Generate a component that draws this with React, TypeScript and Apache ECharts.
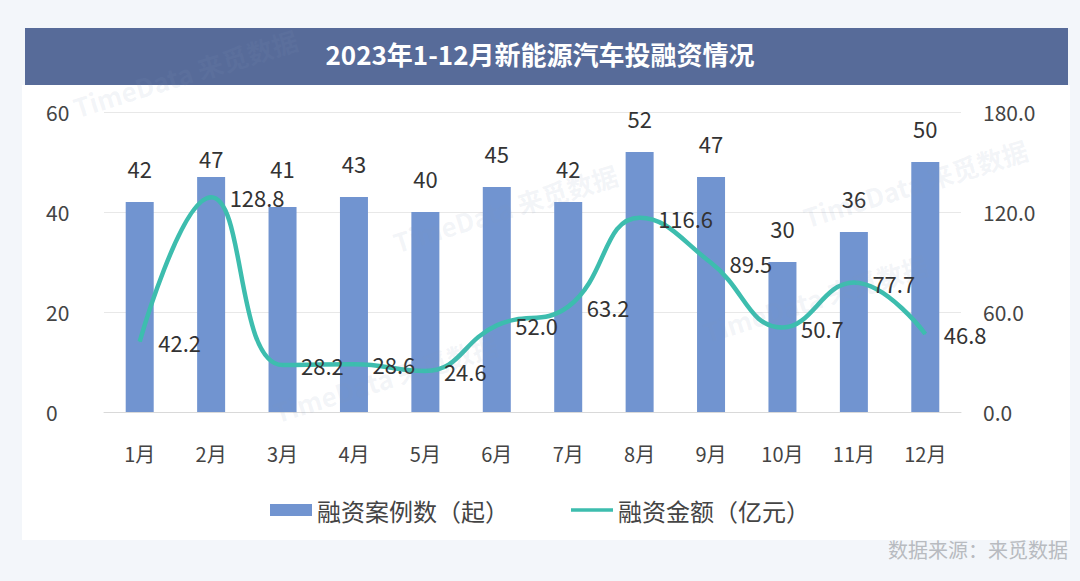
import React, { useEffect, useRef } from "react";
import * as echarts from "echarts";

const months = ["1月", "2月", "3月", "4月", "5月", "6月", "7月", "8月", "9月", "10月", "11月", "12月"];
const caseCounts = [42, 47, 41, 43, 40, 45, 42, 52, 47, 30, 36, 50];
const amounts = [42.2, 128.8, 28.2, 28.6, 24.6, 52.0, 63.2, 116.6, 89.5, 50.7, 77.7, 46.8];
const titleText = "2023年1-12月新能源汽车投融资情况";
const barName = "融资案例数（起）";
const lineName = "融资金额（亿元）";
const sourceText = "数据来源：来觅数据";

const FONT = '"Noto Sans CJK SC", "Noto Sans", sans-serif';

export default function App() {
  const ref = useRef<HTMLDivElement>(null);
  useEffect(() => {
    document.body.style.margin = "0";
    const chart = echarts.init(ref.current!, null, { renderer: "svg" });
    const wm = (x: number, y: number) => ({
      type: "text",
      x,
      y,
      rotation: 0.3,
      silent: true,
      z: 50,
      style: { text: "TimeData 来觅数据", fill: "rgba(130,150,190,0.10)", font: `bold 26px ${FONT}` },
    });
    chart.setOption({
      animation: false,
      backgroundColor: "#f3f6fa",
      textStyle: { fontFamily: FONT },
      graphic: [
        { type: "rect", z: -10, shape: { x: 22, y: 85, width: 1048, height: 455 }, style: { fill: "#ffffff" } },
        { type: "rect", z: -10, shape: { x: 25, y: 28, width: 1043, height: 57 }, style: { fill: "#576b99" } },
        {
          type: "text",
          left: "center",
          top: 40,
          style: { text: titleText, fill: "#ffffff", font: `bold 26px ${FONT}` },
        },
        {
          type: "text",
          right: 12,
          top: 539,
          style: { text: sourceText, fill: "#b8bbc0", font: `20px ${FONT}` },
        },
        wm(70, 95),
        wm(390, 230),
        wm(270, 400),
        wm(700, 320),
        wm(800, 205),
      ],
      legend: {
        bottom: 54,
        left: "center",
        itemGap: 62,
        textStyle: { fontSize: 24, color: "#444", fontFamily: FONT },
        data: [
          { name: barName, icon: "rect", itemWidth: 36, itemHeight: 13 },
          { name: lineName, icon: "path://M0,5 L42,5 L42,8.5 L0,8.5 Z" },
        ],
        itemWidth: 42,
        itemHeight: 12,
      },
      grid: { left: 104, right: 119, top: 112, bottom: 169, containLabel: false },
      xAxis: {
        type: "category",
        data: months,
        axisLine: { show: true, lineStyle: { color: "#d9d9d9", width: 1 } },
        axisTick: { show: false },
        axisLabel: { color: "#444", fontSize: 20, margin: 31, fontFamily: FONT },
      },
      yAxis: [
        {
          type: "value",
          min: 0,
          max: 60,
          interval: 20,
          axisLine: { show: false },
          axisTick: { show: false },
          splitLine: { lineStyle: { color: "#e8e8e8" } },
          axisLabel: { color: "#444", fontSize: 21, margin: 58, align: "left", fontFamily: FONT },
        },
        {
          type: "value",
          min: 0,
          max: 180,
          interval: 60,
          axisLine: { show: false },
          axisTick: { show: false },
          splitLine: { show: false },
          axisLabel: {
            color: "#444",
            fontSize: 21,
            margin: 22,
            fontFamily: FONT,
            formatter: (v: number) => v.toFixed(1),
          },
        },
      ],
      series: [
        {
          name: barName,
          type: "bar",
          data: caseCounts.map((v, i) =>
            i === 1 ? { value: v, label: { distance: 8 } } : i === 2 ? { value: v, label: { distance: 28 } } : v
          ),
          barWidth: 28,
          itemStyle: { color: "#7194d0" },
          label: { show: true, position: "top", distance: 23, color: "#333", fontSize: 22, fontFamily: FONT },
        },
        {
          name: lineName,
          type: "line",
          yAxisIndex: 1,
          data: amounts,
          smooth: 0.45,
          showSymbol: true,
          symbol: "circle",
          symbolSize: 1,
          lineStyle: { color: "#3dbdae", width: 4.5 },
          itemStyle: { color: "#3dbdae" },
          label: {
            show: true,
            position: "right",
            distance: 18,
            color: "#333",
            fontSize: 22,
            fontFamily: FONT,
            formatter: (p: any) => Number(p.value).toFixed(1),
          },
        },
      ],
    });
    return () => chart.dispose();
  }, []);
  return <div ref={ref} style={{ position: "fixed", left: 0, top: 0, width: 1080, height: 581 }} />;
}
